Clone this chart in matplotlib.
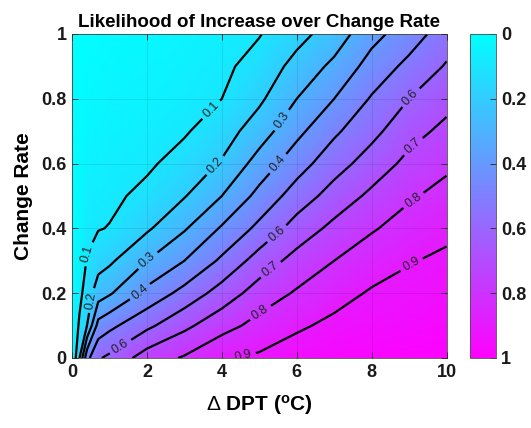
import numpy as np
import matplotlib
matplotlib.use("Agg")
import matplotlib.pyplot as plt

plt.rcParams['font.family'] = ['Liberation Sans', 'DejaVu Sans']
plt.rcParams['mathtext.fontset'] = 'custom'
plt.rcParams['mathtext.rm'] = 'Liberation Sans'
plt.rcParams['mathtext.it'] = 'Liberation Sans:bold'
plt.rcParams['mathtext.bf'] = 'Liberation Sans:bold'

# ---- data ----
delta_dpt = [0, 0.2, 0.4, 0.7, 1, 2, 3, 4, 5, 6, 7, 8, 9, 10]
change_rate = [0, 0.1, 0.2, 0.3, 0.4, 0.5, 0.6, 0.7, 0.8, 0.9, 1.0]

lik_r00 = [0, 0.2, 0.47, 0.59, 0.62, 0.75, 0.81, 0.89, 0.915, 0.95, 0.97, 0.98, 0.985, 0.99]
lik_r01 = [0, 0.117, 0.2, 0.436, 0.475, 0.577, 0.677, 0.763, 0.833, 0.885, 0.922, 0.945, 0.956, 0.965]
lik_r02 = [0, 0.07, 0.152, 0.25, 0.288, 0.429, 0.533, 0.643, 0.745, 0.811, 0.865, 0.91, 0.926, 0.94]
lik_r03 = [0, 0.05, 0.105, 0.163, 0.183, 0.3, 0.4, 0.518, 0.644, 0.735, 0.8, 0.855, 0.895, 0.915]
lik_r04 = [0, 0.035, 0.08, 0.095, 0.104, 0.185, 0.29, 0.411, 0.525, 0.642, 0.726, 0.79, 0.842, 0.881]
lik_r05 = [0, 0.025, 0.06, 0.075, 0.08, 0.124, 0.194, 0.3, 0.43, 0.545, 0.641, 0.721, 0.788, 0.832]
lik_r06 = [0, 0.02, 0.045, 0.06, 0.065, 0.085, 0.137, 0.209, 0.341, 0.457, 0.559, 0.644, 0.727, 0.781]
lik_r07 = [0, 0.015, 0.035, 0.045, 0.05, 0.065, 0.09, 0.153, 0.252, 0.374, 0.483, 0.572, 0.665, 0.725]
lik_r08 = [0, 0.01, 0.025, 0.035, 0.04, 0.05, 0.07, 0.1, 0.182, 0.3, 0.4, 0.509, 0.6, 0.668]
lik_r09 = [0, 0.005, 0.015, 0.025, 0.03, 0.04, 0.055, 0.08, 0.136, 0.233, 0.323, 0.439, 0.526, 0.609]
lik_r10 = [0, 0, 0.01, 0.015, 0.02, 0.03, 0.045, 0.065, 0.095, 0.167, 0.246, 0.368, 0.452, 0.55]

labeled_levels = [0.1, 0.2, 0.3, 0.4, 0.6, 0.7, 0.8, 0.9]
unlabeled_levels = [0.5]
x_ticks = [0, 2, 4, 6, 8, 10]
y_ticks = [0, 0.2, 0.4, 0.6, 0.8, 1]
y_tick_labels = ['0', '0.2', '0.4', '0.6', '0.8', '1']
cbar_ticks = [0, 0.2, 0.4, 0.6, 0.8, 1]
cbar_tick_labels = ['0', '0.2', '0.4', '0.6', '0.8', '1']

Z = np.vstack([lik_r00, lik_r01, lik_r02, lik_r03, lik_r04, lik_r05,
               lik_r06, lik_r07, lik_r08, lik_r09, lik_r10])
X, Y = np.meshgrid(delta_dpt, change_rate)

# ---- figure ----
W, H = 531, 428
fig = plt.figure(figsize=(W / 100, H / 100), dpi=100)
ax = fig.add_axes([72 / W, 70 / H, 374.5 / W, 324 / H])
cax = fig.add_axes([470 / W, 70 / H, 26 / W, 324 / H])

mesh = ax.pcolormesh(X, Y, Z, cmap='cool', vmin=0, vmax=1, shading='gouraud')
cs = ax.contour(X, Y, Z, levels=labeled_levels, colors='k', linewidths=1.6)
ax.contour(X, Y, Z, levels=unlabeled_levels, colors='k', linewidths=1.6)

label_spots = [(0.44, 0.32), (3.72, 0.766),
               (0.39, 0.18), (3.77, 0.60),
               (2.03, 0.30), (5.59, 0.735),
               (1.81, 0.205), (5.5, 0.60),
               (1.32, 0.031), (5.46, 0.385), (9.02, 0.807),
               (5.28, 0.277), (9.11, 0.653),
               (5.01, 0.144), (9.11, 0.488),
               (4.57, 0.01), (9.07, 0.288)]
ax.clabel(cs, manual=label_spots, fontsize=9, inline=True, inline_spacing=4,
          fmt='%g', colors='#222222')

ax.set_xlim(0, 10)
ax.set_ylim(0, 1)
ax.set_xticks(x_ticks)
ax.set_yticks(y_ticks)
ax.set_yticklabels(y_tick_labels)
ax.tick_params(direction='in', length=4, width=0.6, labelsize=13, colors='#262626',
               top=True, right=True, pad=4)
for t in ax.get_xticklabels() + ax.get_yticklabels():
    t.set_fontweight('bold')
    t.set_color('#1a1a1a')
ax.grid(True, color='k', alpha=0.12, linewidth=0.5)
ax.set_axisbelow(False)
for s in ax.spines.values():
    s.set_color('#4d4d4d')
    s.set_linewidth(0.6)

ax.set_title('Likelihood of Increase over Change Rate', fontsize=13.5,
             fontweight='bold', pad=5)
ax.set_xlabel(r'$\Delta$ DPT ($^{\mathbf{o}}$C)', fontsize=15, fontweight='bold', labelpad=9)
ax.set_ylabel('Change Rate', fontsize=15, fontweight='bold', labelpad=6)

cb = fig.colorbar(mesh, cax=cax)
cax.invert_yaxis()
cb.set_ticks(cbar_ticks)
cb.set_ticklabels(cbar_tick_labels)
cax.tick_params(direction='in', length=4, width=0.6, labelsize=13, colors='#262626')
for t in cax.get_yticklabels():
    t.set_fontweight('bold')
    t.set_color('#1a1a1a')
cb.outline.set_edgecolor('#4d4d4d')
cb.outline.set_linewidth(0.6)

fig.savefig('out.png', dpi=100)
